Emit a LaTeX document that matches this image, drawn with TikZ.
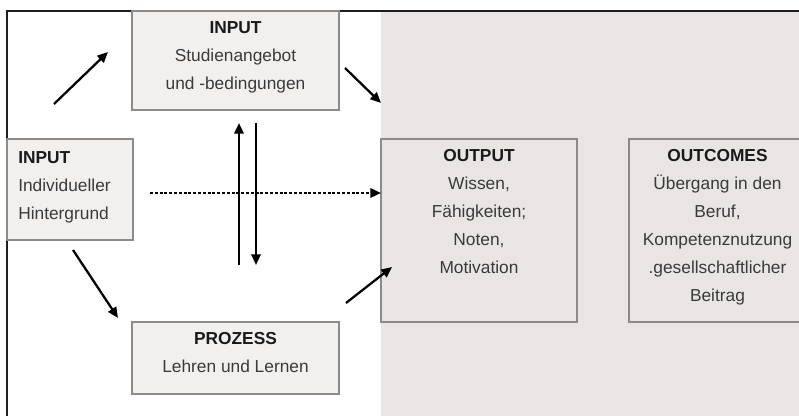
\documentclass[tikz,border=0pt]{standalone}
\usepackage{fontspec}
\setmainfont{Liberation Sans}
\usetikzlibrary{arrows.meta,fit}
\definecolor{zone}{HTML}{E8E5E4}
\definecolor{boxfill}{HTML}{F2F0EF}
\definecolor{boxline}{HTML}{8E8A89}
\definecolor{frameline}{HTML}{1E1E1E}
\definecolor{bodytext}{HTML}{3A3A3A}
\definecolor{titletext}{HTML}{1A1A1A}
\begin{document}
\begin{tikzpicture}[x=0.75pt,y=-0.75pt,
  box/.style={draw=boxline, line width=1.1pt, fill=boxfill, inner sep=0pt},
  zbox/.style={draw=boxline, line width=1.1pt, fill=zone, inner sep=0pt},
  txt/.style={inner sep=0pt, anchor=north, align=center, text=bodytext,
    font=\fontsize{13}{21}\selectfont},
  arr/.style={draw=black, line width=1.7pt, -{Triangle[length=8pt,width=7pt]}},
  dotarr/.style={arr, dash pattern=on 2.2pt off 1.4pt},
]
\useasboundingbox (0,0) rectangle (799,416);
\clip (0,0) rectangle (799,416);
\fill[white] (0,0) rectangle (799,416);
% grey zone
\fill[zone] (381,11) rectangle (799,416);
% frame
\draw[frameline, line width=1.2pt] (7,416) -- (7,11) -- (799,11);

% boxes
\node[box, fit={(132,11) (339,110)}] (in1) {};
\node[box, fit={(7,139) (133,240)}] (in2) {};
\node[box, fit={(132,322) (339,394)}] (pro) {};
\node[zbox, fit={(381,139) (577,322)}] (out) {};
\node[zbox, fit={(629,139) (806,322)}] (outc) {};

% texts
\node[txt] (t1) at (235.5,21) {\textcolor{titletext}{\textbf{INPUT}}\\Studienangebot\\und -bedingungen};
\node[txt, anchor=north west, align=left] (t2) at (18,151) {\textcolor{titletext}{\textbf{INPUT}}\\Individueller\\Hintergrund};
\node[txt] (t3) at (235.5,332) {\textcolor{titletext}{\textbf{PROZESS}}\\Lehren und Lernen};
\node[txt] (t4) at (479,149) {\textcolor{titletext}{\textbf{OUTPUT}}\\Wissen,\\Fähigkeiten;\\Noten,\\Motivation};
\node[txt] (t5) at (717.5,149) {\textcolor{titletext}{\textbf{OUTCOMES}}\\Übergang in den\\Beruf,\\Kompetenznutzung\\.gesellschaftlicher\\Beitrag};

% arrow end points
\coordinate (a1s) at (54,104);  \coordinate (a1e) at (108,52);
\coordinate (a2s) at (345,68);  \coordinate (a2e) at (381,103);
\coordinate (ups) at (239,265); \coordinate (upe) at (239,123);
\coordinate (dns) at (256,123); \coordinate (dne) at (256,265);
\coordinate (dts) at (150,193); \coordinate (dte) at (381,193);
\coordinate (a3s) at (73,250);  \coordinate (a3e) at (118,318);
\coordinate (a4s) at (346,303); \coordinate (a4e) at (392,267);

\draw[arr] (a1s) -- (a1e);
\draw[arr] (a2s) -- (a2e);
\draw[arr] (ups) -- (upe);
\draw[arr] (dns) -- (dne);
\draw[dotarr] (dts) -- (dte);
\draw[arr] (a3s) -- (a3e);
\draw[arr] (a4s) -- (a4e);
\end{tikzpicture}
\end{document}
